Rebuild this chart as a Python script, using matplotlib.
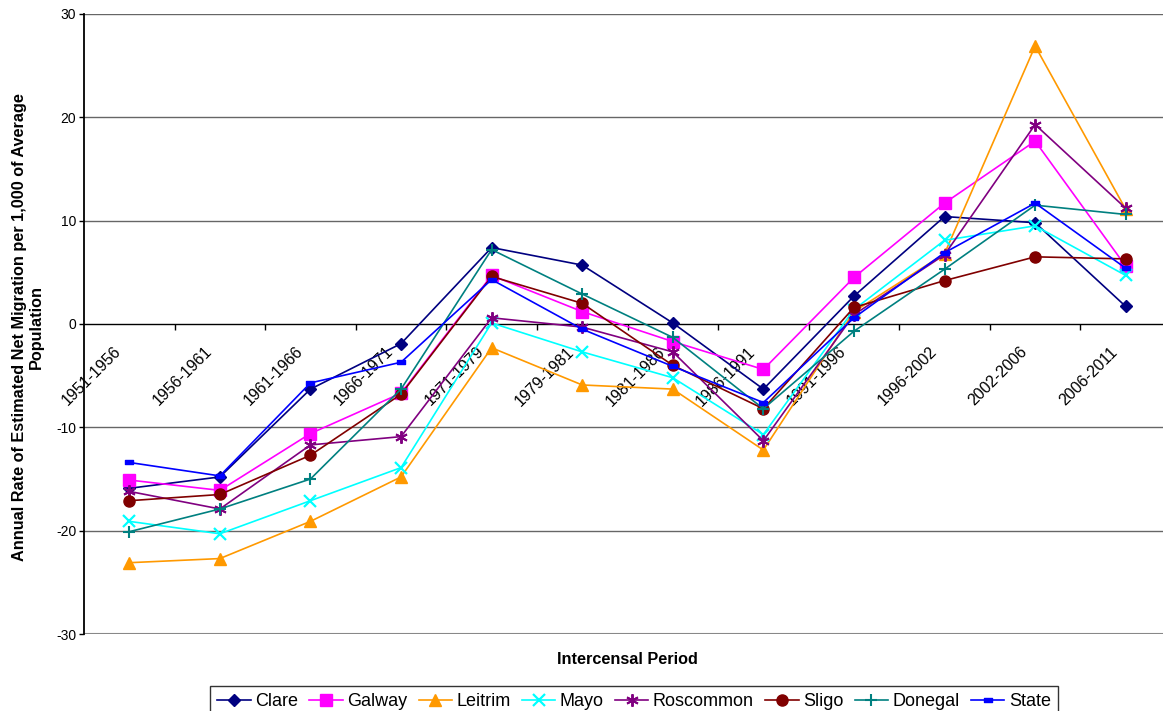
import matplotlib
matplotlib.use("Agg")
import matplotlib.pyplot as plt
from matplotlib.transforms import ScaledTranslation
from matplotlib.path import Path

plt.rcParams['font.family'] = ['Liberation Sans', 'DejaVu Sans']
plt.rcParams['axes.unicode_minus'] = False

periods = ["1951-1956", "1956-1961", "1961-1966", "1966-1971", "1971-1979",
           "1979-1981", "1981-1986", "1986-1991", "1991-1996", "1996-2002",
           "2002-2006", "2006-2011"]

clare     = [-15.9, -14.8, -6.3, -1.9, 7.4, 5.7, 0.1, -6.3, 2.7, 10.4, 9.8, 1.7]
galway    = [-15.1, -16.1, -10.6, -6.7, 4.7, 1.2, -1.7, -4.4, 4.5, 11.7, 17.7, 5.6]
leitrim   = [-23.1, -22.7, -19.1, -14.8, -2.3, -5.9, -6.3, -12.2, 1.2, 6.8, 26.9, 11.1]
mayo      = [-19.1, -20.3, -17.1, -13.9, 0.1, -2.7, -5.2, -10.7, 1.4, 8.1, 9.5, 4.7]
roscommon = [-16.2, -17.9, -11.7, -10.9, 0.6, -0.3, -2.7, -11.3, 0.9, 6.7, 19.3, 11.2]
sligo     = [-17.1, -16.5, -12.7, -6.8, 4.6, 2.0, -4.0, -8.2, 1.6, 4.2, 6.5, 6.3]
donegal   = [-20.1, -17.9, -15.0, -6.3, 7.2, 2.9, -1.3, -8.2, -0.7, 5.3, 11.5, 10.6]
state     = [-13.4, -14.7, -5.7, -3.7, 4.3, -0.5, -4.1, -7.6, 0.6, 6.9, 11.7, 5.4]

series_names = ["Clare", "Galway", "Leitrim", "Mayo", "Roscommon", "Sligo", "Donegal", "State"]
series_values = [clare, galway, leitrim, mayo, roscommon, sligo, donegal, state]

# small flat bar used as the State marker
dash = Path([(-1, -0.45), (1, -0.45), (1, 0.45), (-1, 0.45), (-1, -0.45)],
            [Path.MOVETO, Path.LINETO, Path.LINETO, Path.LINETO, Path.CLOSEPOLY])

styles = [
    dict(color="#000080", marker="D", ms=6.5),
    dict(color="#FF00FF", marker="s", ms=8),
    dict(color="#FF9900", marker="^", ms=8.5),
    dict(color="#00FFFF", marker="x", ms=8, mew=1.6),
    dict(color="#800080", marker=(6, 2, 0), ms=9, mew=1.4),
    dict(color="#800000", marker="o", ms=8),
    dict(color="#008080", marker="+", ms=9, mew=1.5),
    dict(color="#0000FF", marker=dash, ms=5.5),
]

W, H, DPI = 1163, 711, 100
fig = plt.figure(figsize=(W / DPI, H / DPI), dpi=DPI)
left_px, right_px, top_px, bot_px = 84, 1171, 14, 634
ax = fig.add_axes([left_px / W, 1 - bot_px / H, (right_px - left_px) / W, (bot_px - top_px) / H])

x = list(range(len(periods)))
for name, vals, st in zip(series_names, series_values, styles):
    ax.plot(x, vals, color=st["color"], lw=1.2, marker=st["marker"], markersize=st["ms"],
            markeredgewidth=st.get("mew", 1.0), markerfacecolor=st["color"],
            markeredgecolor=st["color"], label=name, clip_on=False, zorder=3)

ax.set_xlim(-0.5, len(periods) - 0.5)
ax.set_ylim(-30, 30)
ax.set_yticks(range(-30, 31, 10))
for v in range(-20, 31, 10):
    if v != 0:
        ax.axhline(v, color="#666666", lw=1.0, zorder=1)
ax.axhline(-30, color="#888888", lw=1.5, zorder=1)

ax.spines["top"].set_visible(False)
ax.spines["right"].set_visible(False)
ax.spines["left"].set_color("black")
ax.spines["left"].set_linewidth(1.3)
ax.spines["bottom"].set_position(("data", 0))
ax.spines["bottom"].set_color("black")
ax.spines["bottom"].set_linewidth(1.0)

ax.set_xticks([k + 0.5 for k in range(len(periods) - 1)])
ax.set_xticklabels([])
ax.tick_params(axis="x", direction="out", length=4, width=1, color="black")
ax.tick_params(axis="y", direction="out", length=3.5, width=1, color="black",
               labelsize=10, pad=2)

offset = ScaledTranslation(-5 / DPI, -20 / DPI, fig.dpi_scale_trans)
for i, lab in enumerate(periods):
    ax.text(i, 0, lab, rotation=45, ha="right", va="top", fontsize=11.5,
            transform=ax.transData + offset, clip_on=False, zorder=2)

fig.text(28 / W, 1 - 327 / H,
         "Annual Rate of Estimated Net Migration per 1,000 of Average\nPopulation",
         rotation=90, ha="center", va="center", multialignment="center",
         fontsize=11.7, fontweight="bold", linespacing=1.2)
fig.text(627 / W, 1 - 660 / H, "Intercensal Period", ha="center", va="center",
         fontsize=11.7, fontweight="bold")

leg = fig.legend(loc="upper left", bbox_to_anchor=(210 / W, 1 - 686 / H), ncol=8,
                 fontsize=13, frameon=True, fancybox=False, edgecolor="black",
                 handlelength=1.85, handletextpad=0.25, columnspacing=0.62,
                 borderpad=0.4, borderaxespad=0)
leg.get_frame().set_linewidth(1.0)

fig.savefig("out.png", dpi=DPI)
